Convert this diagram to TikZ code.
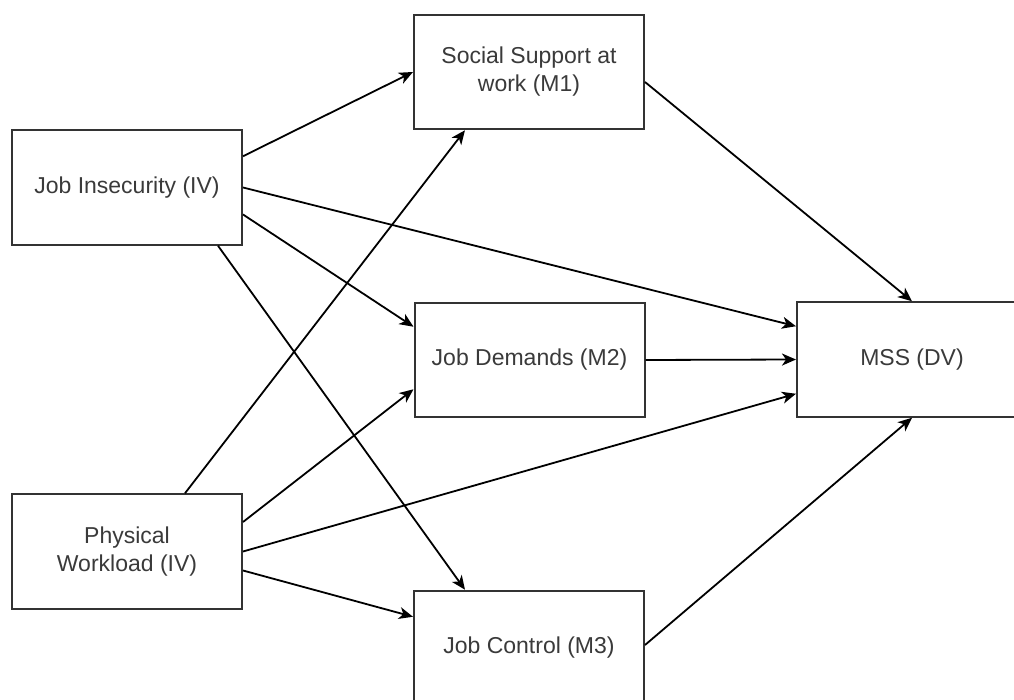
\documentclass[tikz,border=0pt]{standalone}
\usepackage{fontspec}
\setmainfont{Liberation Sans}
\usepackage{tikz}
\usetikzlibrary{calc,arrows.meta}
\definecolor{edge}{HTML}{333333}
\definecolor{label}{HTML}{3A3A3A}
\tikzset{
  box/.style={draw=edge, line width=2pt, fill=white, minimum width=230pt, minimum height=114.5pt,
    inner sep=0pt, align=center, text=label, font=\fontsize{23}{28}\selectfont},
  link/.style={draw=black, line width=1.8pt, -{Stealth[length=14pt,width=12pt,inset=4pt]}}
}

\begin{document}
\begin{tikzpicture}[x=1pt,y=-1pt]
  \useasboundingbox[fill=white] (0,0) rectangle (1014,700);
  \clip (0,0) rectangle (1014,700);

  % independent variables
  \node[box] (ji) at (127,187.5) {Job Insecurity (IV)};
  \node[box] (pw) at (127,551.5) {Physical\\Workload (IV)};

  % mediators
  \node[box] (ss) at (529,72) {Social Support at\\work (M1)};
  \node[box] (jd) at (529.5,360) {Job Demands (M2)};
  \node[box] (jc) at (529,648) {Job Control (M3)};

  % outcome
  \node[box] (mss) at (912,359.5) {MSS (DV)};

  % paths from job insecurity
  \draw[link] ($(ji.north east)+(0,27)$) -- (ss.west);
  \draw[link] (ji.east) -- ($(mss.north west)+(0,25)$);
  \draw[link] ($(ji.east)+(0,27)$) -- ($(jd.north west)+(0,25)$);
  \draw[link] ($(ji.south east)+(-25,0)$) -- ($(jc.north west)+(52,0)$);

  % paths from physical workload
  \draw[link] ($(pw.north)+(58,0)$) -- ($(ss.south west)+(52,0)$);
  \draw[link] ($(pw.east)+(0,-29.5)$) -- ($(jd.south west)+(0,-29)$);
  \draw[link] (pw.east) -- ($(mss.south west)+(0,-24)$);
  \draw[link] ($(pw.east)+(0,19)$) -- ($(jc.north west)+(0,27)$);

  % mediators to outcome
  \draw[link] ($(ss.east)+(0,10)$) -- (mss.north);
  \draw[link] (jd.east) -- (mss.west);
  \draw[link] ($(jc.east)+(0,-3)$) -- (mss.south);
\end{tikzpicture}
\end{document}
